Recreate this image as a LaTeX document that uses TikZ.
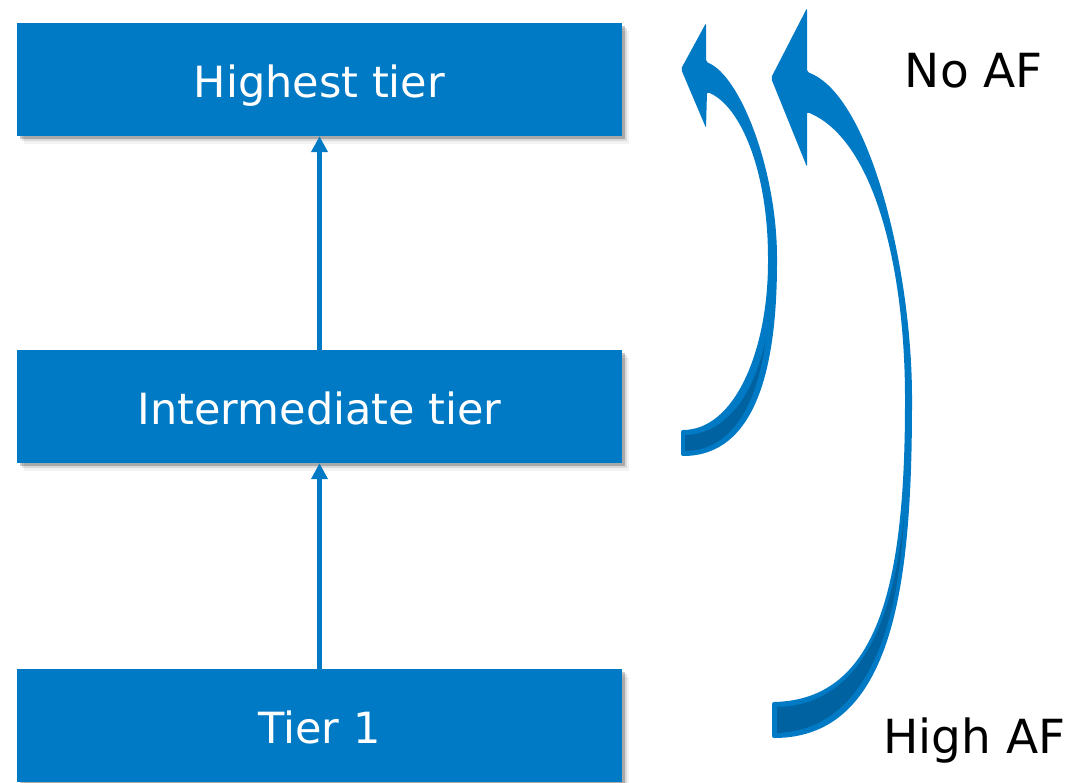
\documentclass[tikz,border=0pt]{standalone}
\usepackage{fontspec}
\setmainfont{DejaVu Sans}
\usetikzlibrary{arrows.meta,shadows}
\definecolor{tierblue}{RGB}{0,122,197}
\definecolor{tierdark}{RGB}{0,98,160}
\begin{document}
\begin{tikzpicture}[x=1pt,y=-1pt,
  tierbox/.style={fill=tierblue, minimum width=605pt, minimum height=113pt,
    inner sep=0pt, text=white, font=\fontsize{43}{50}\selectfont,
    text height=35pt, text depth=0pt,
    drop shadow={shadow xshift=7pt, shadow yshift=-8pt, fill=black, opacity=0.05},
    drop shadow={shadow xshift=4.5pt, shadow yshift=-5pt, fill=black, opacity=0.10},
    drop shadow={shadow xshift=2.5pt, shadow yshift=-3pt, fill=black, opacity=0.22}},
  tierarrow/.style={draw=tierblue, line width=4.5pt,
    -{Triangle[length=16pt,width=16pt]}},
  aflabel/.style={anchor=base, font=\fontsize{47}{54}\selectfont, text=black, inner sep=0pt},
  curvefront/.style={fill=tierblue, rounded corners=2pt},
  curveback/.style={fill=tierdark}]
\useasboundingbox (0,0) rectangle (1081,782);

% tier boxes
\node[tierbox] (top) at (319.5,79.5) {Highest tier};
\node[tierbox] (mid) at (319.5,406.5) {Intermediate tier};
\node[tierbox] (low) at (319.5,725.5) {Tier 1};

% upward links between tiers
\draw[tierarrow] (low.north) -- (mid.south);
\draw[tierarrow] (mid.north) -- (top.south);

% short curved arrow: intermediate tier up to highest tier
\path[curvefront] (681,69) -- (706,23) -- (706,62)
  .. controls (740,75) and (777,170) .. (777,260)
  .. controls (777,370) and (755,456) .. (681,456)
  -- (681,430)
  .. controls (735,430) and (768,350) .. (768,260)
  .. controls (768,170) and (740,105) .. (707,92)
  -- (706,128) -- cycle;
\path[curveback] (685,435)
  .. controls (735,434) and (758,378) .. (766,338)
  .. controls (758,400) and (735,450) .. (685,451) -- cycle;

% long curved arrow: tier 1 up to highest tier
\path[curvefront] (771,78) -- (807,8) -- (807,72)
  .. controls (870,95) and (912,270) .. (912,400)
  .. controls (912,580) and (895,738) .. (772,738)
  -- (772,702)
  .. controls (880,700) and (905,580) .. (905,400)
  .. controls (905,270) and (875,140) .. (807,112)
  -- (807,167) -- cycle;
\path[curveback] (777,707)
  .. controls (872,705) and (896,595) .. (904,515)
  .. controls (898,640) and (860,730) .. (777,733) -- cycle;

% end labels
\node[aflabel] (noaf) at (974,87) {No AF};
\node[aflabel] (highaf) at (974.5,753) {High AF};
\end{tikzpicture}
\end{document}
